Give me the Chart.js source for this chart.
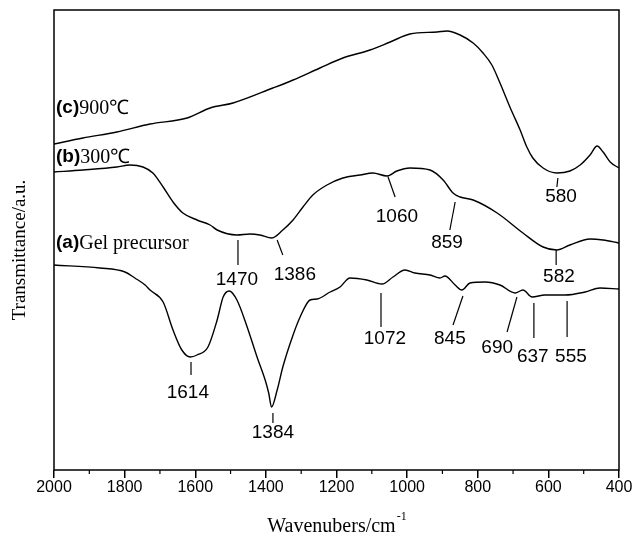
<!DOCTYPE html>
<html><head><meta charset="utf-8">
<script src="https://cdn.jsdelivr.net/npm/chart.js@4/dist/chart.umd.min.js"></script>
<style>html,body{margin:0;padding:0;background:#fff;}</style>
</head><body>
<canvas id="c" width="633" height="536"></canvas>
<script>
// ---- data (wavenumber cm^-1, transmittance a.u.) ----
const wavenumbersC = [2000,1918,1822,1728,1623,1558,1493,1380,1323,1247,1182,1105,1048,992,915,887,850,813,785,760,737,709,680,661,644,615,576,539,510,482,462,445,425,400];
const valuesC      = [326,332,338,346,352,362,367,382,390,402,412,420,428,436,438,439,435,427,417,405,387,363,340,323,312,302,297,299,305,315,324,318,308,302];

const wavenumbersB = [2000,1918,1822,1785,1748,1720,1691,1663,1635,1595,1558,1538,1482,1445,1417,1383,1352,1323,1295,1267,1227,1182,1133,1097,1057,1029,992,935,898,870,850,813,745,672,615,576,539,482,445,400];
const valuesB      = [298,300,303,305,303,297,283,268,257,250,245,240,235,236,235,232,240,250,263,275,285,292,295,297,294,299,302,300,290,277,273,270,257,237,223,220,225,231,230,227];

const wavenumbersA = [2000,1870,1799,1771,1742,1728,1691,1663,1638,1614,1595,1564,1538,1521,1504,1482,1453,1425,1402,1392,1384,1368,1352,1323,1303,1275,1255,1218,1190,1162,1114,1071,1040,1006,978,935,907,893,864,845,822,779,737,694,672,646,610,553,496,454,400];
const valuesA      = [205,202,198,192,185,180,168,140,120,113,115,123,150,173,179,170,143,113,90,77,63,80,103,135,153,170,171,178,183,192,190,186,193,200,197,195,192,194,185,180,187,188,185,177,180,173,175,175,178,182,181];

const xTicks = [2000,1800,1600,1400,1200,1000,800,600,400];
const seriesLabels = [
  {tag:'(c)', text:'900\u2103', x:2000, y:362},
  {tag:'(b)', text:'300\u2103', x:2000, y:313},
  {tag:'(a)', text:'Gel precursor', x:2000, y:227}
];
// peak marks: label, line start/end (wavenumber, value), text anchor
const peakLabels = ['1470','1386','1060','859','580','582','1614','1384','1072','845','690','637','555'];
const peakLines = [
  [1479,230,1479,205],[1368,230,1352,215],[1054,293,1034,273],[864,268,879,240],[573,292,576,283],[578,220,578,205],
  [1612,108,1612,95],[1380,57,1380,47],[1074,177,1074,143],[842,174,870,145],[689,173,717,138],[641,167,641,132],[547,169,547,133]
];
const peakText = [
  [1482,190],[1318,195],[1029,253],[887,227],[564,273],[570,193],
  [1621,77],[1380,37],[1063,131],[879,131],[745,122],[644,113],[536,113]
];

function toPts(xs, ys){ return xs.map((x,i)=>({x:x,y:ys[i]})); }
const lineStyle = {borderColor:'#000', borderWidth:1.4, pointRadius:0, showLine:true, fill:false, cubicInterpolationMode:'monotone'};

const decor = {
  id:'decor',
  afterDatasetsDraw(chart){
    const ctx = chart.ctx, a = chart.chartArea, xs = chart.scales.x, ys = chart.scales.y;
    ctx.save();
    ctx.strokeStyle = '#000'; ctx.lineWidth = 1.5;
    ctx.strokeRect(a.left, a.top, a.right - a.left, a.bottom - a.top);
    ctx.lineWidth = 1.2;
    for (let w = 500; w < 2000; w += 200){
      const px = xs.getPixelForValue(w);
      ctx.beginPath(); ctx.moveTo(px, a.bottom); ctx.lineTo(px, a.bottom + 4); ctx.stroke();
    }
    ctx.fillStyle = '#000'; ctx.textBaseline = 'middle'; ctx.textAlign = 'left';
    seriesLabels.forEach(s => {
      const px = xs.getPixelForValue(s.x) + 2, py = ys.getPixelForValue(s.y);
      ctx.font = 'bold 19px "Liberation Sans", Arial, sans-serif';
      ctx.fillText(s.tag, px, py);
      const w = ctx.measureText(s.tag).width;
      ctx.font = '20px "Liberation Serif", "Times New Roman", serif';
      ctx.fillText(s.text, px + w, py + 1);
    });
    ctx.lineWidth = 1.2; ctx.textAlign = 'center';
    ctx.font = '19px "Liberation Sans", Arial, sans-serif';
    peakLabels.forEach((lab, i) => {
      const l = peakLines[i], t = peakText[i];
      ctx.beginPath();
      ctx.moveTo(xs.getPixelForValue(l[0]), ys.getPixelForValue(l[1]));
      ctx.lineTo(xs.getPixelForValue(l[2]), ys.getPixelForValue(l[3]));
      ctx.stroke();
      ctx.fillText(lab, xs.getPixelForValue(t[0]), ys.getPixelForValue(t[1]));
    });
    ctx.font = '20px "Liberation Serif", "Times New Roman", serif';
    ctx.textAlign = 'left'; ctx.textBaseline = 'alphabetic';
    const main = 'Wavenubers/cm';
    const mw = ctx.measureText(main).width;
    ctx.font = '12px "Liberation Serif", "Times New Roman", serif';
    const sw = ctx.measureText('-1').width;
    const x0 = (a.left + a.right)/2 - (mw + sw)/2;
    ctx.font = '20px "Liberation Serif", "Times New Roman", serif';
    ctx.fillText(main, x0, 532);
    ctx.font = '12px "Liberation Serif", "Times New Roman", serif';
    ctx.fillText('-1', x0 + mw + 1, 520);
    ctx.translate(20, (a.top + a.bottom)/2 + 10);
    ctx.rotate(-Math.PI/2);
    ctx.textAlign = 'center'; ctx.textBaseline = 'middle';
    ctx.font = '19px "Liberation Serif", "Times New Roman", serif';
    ctx.fillText('Transmittance/a.u.', 0, 0);
    ctx.restore();
  }
};

new Chart(document.getElementById('c'), {
  type: 'scatter',
  data: { datasets: [
    Object.assign({label:'(c)900\u2103', data: toPts(wavenumbersC, valuesC)}, lineStyle),
    Object.assign({label:'(b)300\u2103', data: toPts(wavenumbersB, valuesB)}, lineStyle),
    Object.assign({label:'(a)Gel precursor', data: toPts(wavenumbersA, valuesA)}, lineStyle)
  ]},
  options: {
    responsive: false, animation: false,
    layout: { padding: {left: 54, right: 14, top: 10, bottom: 0} },
    plugins: { legend: {display:false}, tooltip: {enabled:false} },
    scales: {
      x: {
        type: 'linear', reverse: true, min: 400, max: 2000,
        afterFit(scale){ scale.height = 66; },
        afterBuildTicks(scale){ scale.ticks = xTicks.map(v => ({value: v})); },
        ticks: { color:'#000', font:{family:'"Liberation Sans", Arial, sans-serif', size:16}, padding:0, maxRotation:0, autoSkip:false,
                 callback: v => String(v) },
        grid: { drawOnChartArea:false, drawTicks:true, tickLength:8, color:'#000', lineWidth:1.5 },
        border: { display:false }
      },
      y: { display:false, min:0, max:460 }
    }
  },
  plugins: [decor]
});
</script>
</body></html>
